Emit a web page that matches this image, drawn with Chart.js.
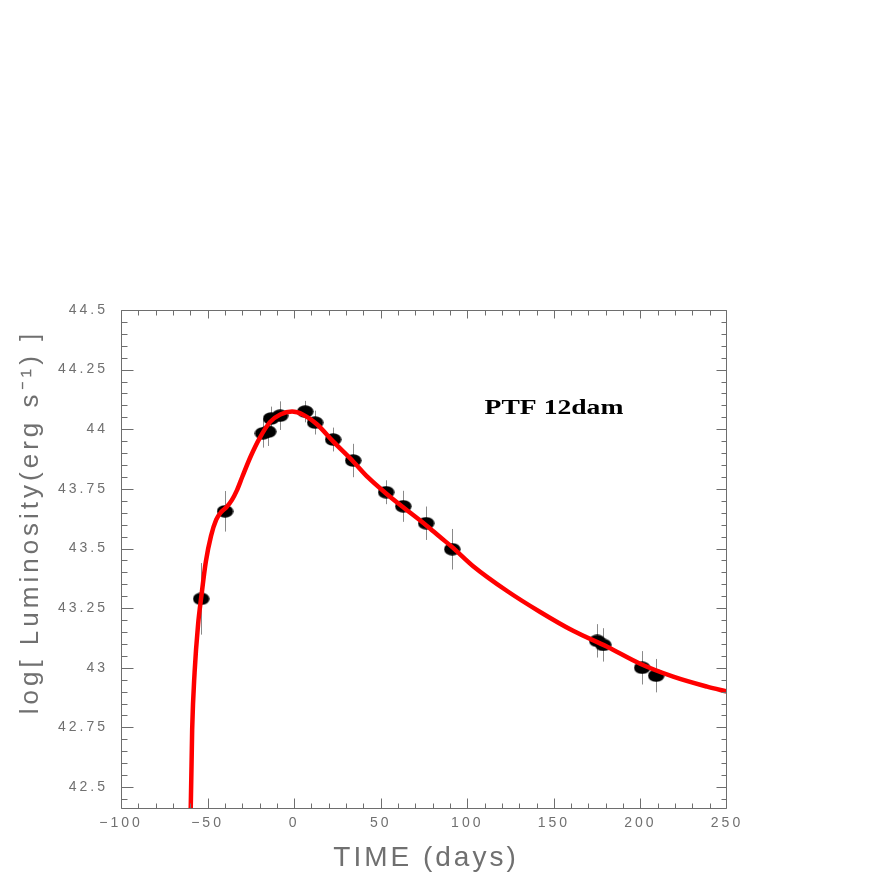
<!DOCTYPE html>
<html>
<head>
<meta charset="utf-8">
<script src="https://cdn.jsdelivr.net/npm/chart.js@4.4.1/dist/chart.umd.min.js"></script>
<style>
  html, body { margin: 0; padding: 0; background: #ffffff; }
  #c { display: block; }
</style>
</head>
<body>
<canvas id="c" width="872" height="872"></canvas>
<script>
// ---- data ----
const obsDays = [-53.7, -39.9, -18.0, -15.0, -13.3, -8.1, 6.4, 12.1, 22.5, 34.1, 53.1, 63.0, 76.2, 91.3, 175.0, 178.5, 201.0, 209.1];
const obsLogL = [43.289, 43.656, 43.983, 43.990, 44.045, 44.057, 44.074, 44.028, 43.957, 43.869, 43.736, 43.677, 43.606, 43.497, 43.113, 43.096, 43.000, 42.967];
const obsErr  = [0.15, 0.085, 0.06, 0.06, 0.05, 0.06, 0.045, 0.05, 0.05, 0.07, 0.05, 0.065, 0.07, 0.085, 0.07, 0.07, 0.07, 0.07];

const modelDays = [-60.4, -59.7, -58.9, -57.5, -55.5, -53.5, -51.0, -48.0, -45.0, -42.0, -39.0, -36.0, -33.0, -30.0, -25.0, -20.0, -14.0, -8.0, -1.2, 5.2, 13.3, 22.5, 34.1, 42.7, 53.1, 63.0, 76.2, 84.3, 91.3, 103.4, 123.0, 142.1, 161.1, 180.8, 199.8, 218.9, 238.5, 250.1];
const modelLogL = [42.36, 42.42, 42.74, 42.98, 43.18, 43.305, 43.445, 43.553, 43.621, 43.654, 43.674, 43.703, 43.745, 43.800, 43.888, 43.962, 44.030, 44.062, 44.074, 44.061, 44.020, 43.949, 43.865, 43.798, 43.731, 43.673, 43.598, 43.548, 43.506, 43.426, 43.322, 43.234, 43.155, 43.088, 43.017, 42.963, 42.921, 42.900];

const xTickValues = [-100, -50, 0, 50, 100, 150, 200, 250];
const yTickValues = [42.5, 42.75, 43, 43.25, 43.5, 43.75, 44, 44.25, 44.5];
const xRange = [-100, 250];
const yRange = [42.408, 44.5];
const labelText = 'PTF 12dam';
const xTitle = 'TIME (days)';
const yTitle = 'log[ Luminosity(erg s\u207B\u00B9) ]';

// ---- styling ----
const AXIS_COLOR = '#6e6e6e';
const TEXT_COLOR = '#707070';

// ellipse marker
const marker = document.createElement('canvas');
marker.width = 17; marker.height = 13;
(function () {
  const m = marker.getContext('2d');
  m.fillStyle = '#000';
  m.beginPath();
  m.ellipse(8.5, 6.5, 8.2, 6.2, 0, 0, Math.PI * 2);
  m.fill();
})();

const framePlugin = {
  id: 'frame',
  beforeDraw(chart) {
    chart.ctx.letterSpacing = '3px';
  },
  beforeDatasetsDraw(chart) {
    const { ctx, chartArea: a, scales: { x, y } } = chart;
    ctx.save();
    ctx.beginPath();
    ctx.rect(a.left, a.top, a.right - a.left, a.bottom - a.top);
    ctx.clip();
    ctx.strokeStyle = '#8a8a8a';
    ctx.lineWidth = 1;
    for (let i = 0; i < obsDays.length; i++) {
      const px = Math.round(x.getPixelForValue(obsDays[i])) + 0.5;
      ctx.beginPath();
      ctx.moveTo(px, y.getPixelForValue(obsLogL[i] - obsErr[i]));
      ctx.lineTo(px, y.getPixelForValue(obsLogL[i] + obsErr[i]));
      ctx.stroke();
    }
    ctx.restore();
  },
  afterDraw(chart) {
    const { ctx, chartArea: a, scales: { x, y } } = chart;
    ctx.save();
    ctx.letterSpacing = '0px';
    ctx.strokeStyle = AXIS_COLOR;
    ctx.lineWidth = 1;
    const L = Math.round(a.left) + 0.5, R = Math.round(a.right) - 0.5;
    const T = Math.round(a.top) + 0.5, B = Math.round(a.bottom) - 0.5;
    ctx.beginPath();
    ctx.rect(L, T, R - L, B - T);
    ctx.stroke();
    // x ticks every 10, major every 50
    ctx.beginPath();
    for (let v = xRange[0]; v <= xRange[1]; v += 10) {
      let px = Math.round(x.getPixelForValue(v)) + 0.5;
      px = Math.min(Math.max(px, L), R);
      const major = v % 50 === 0;
      const lb = major ? 10 : 5, lt = major ? 8 : 5;
      ctx.moveTo(px, B); ctx.lineTo(px, B - lb);
      ctx.moveTo(px, T); ctx.lineTo(px, T + lt);
    }
    // y ticks every 0.05, major every 0.25
    for (let k = Math.ceil(yRange[0] * 20); k <= Math.round(yRange[1] * 20); k++) {
      const v = k / 20;
      let py = Math.round(y.getPixelForValue(v)) + 0.5;
      py = Math.min(Math.max(py, T), B);
      const major = k % 5 === 0;
      const ll = major ? 12 : 6, lr = major ? 10 : 5;
      ctx.moveTo(L, py); ctx.lineTo(L + ll, py);
      ctx.moveTo(R, py); ctx.lineTo(R - lr, py);
    }
    ctx.stroke();

    // axis titles
    ctx.fillStyle = TEXT_COLOR;
    ctx.font = '28px "Liberation Sans", Arial, sans-serif';
    ctx.textAlign = 'center';
    ctx.textBaseline = 'alphabetic';
    ctx.letterSpacing = '3px';
    ctx.fillText(xTitle, (a.left + a.right) / 2 + 2, 866);

    ctx.save();
    ctx.translate(38, 522);
    ctx.rotate(-Math.PI / 2);
    ctx.font = '26px "Liberation Sans", Arial, sans-serif';
    ctx.letterSpacing = '4px';
    ctx.fillText(yTitle, 0, 0);
    ctx.restore();

    // annotation
    ctx.save();
    ctx.letterSpacing = '0px';
    ctx.fillStyle = '#000';
    ctx.font = 'bold 20px "Liberation Serif", "Times New Roman", serif';
    ctx.textAlign = 'left';
    ctx.translate(x.getPixelForValue(110), y.getPixelForValue(44.065));
    ctx.scale(1.38, 1);
    ctx.fillText(labelText, 0, 0);
    ctx.restore();

    ctx.restore();
    ctx.letterSpacing = '0px';
  }
};

new Chart(document.getElementById('c'), {
  type: 'scatter',
  data: {
    datasets: [
      {
        label: 'model',
        type: 'line',
        data: modelDays.map((d, i) => ({ x: d, y: modelLogL[i] })),
        borderColor: '#ff0000',
        borderWidth: 4.5,
        pointRadius: 0,
        fill: false,
        cubicInterpolationMode: 'monotone',
        clip: 0,
        order: 0
      },
      {
        label: 'PTF 12dam',
        data: obsDays.map((d, i) => ({ x: d, y: obsLogL[i] })),
        pointStyle: marker,
        pointRadius: 8,
        backgroundColor: '#000',
        borderColor: '#000',
        clip: 6,
        order: 1
      }
    ]
  },
  options: {
    responsive: false,
    animation: false,
    devicePixelRatio: 1,
    layout: { padding: { left: 0, top: 310, right: 145, bottom: 0 } },
    plugins: { legend: { display: false }, tooltip: { enabled: false } },
    scales: {
      x: {
        type: 'linear',
        min: xRange[0], max: xRange[1],
        grid: { display: false, drawTicks: false },
        border: { display: false },
        afterBuildTicks: (s) => { s.ticks = xTickValues.map(v => ({ value: v })); },
        afterFit: (s) => { s.height = 63; },
        ticks: {
          padding: 6,
          color: TEXT_COLOR,
          font: { family: '"Liberation Sans", Arial, sans-serif', size: 14 },
          maxRotation: 0,
          autoSkip: false,
          callback: (v) => (v < 0 ? '\u2212' + Math.abs(v) : String(v))
        }
      },
      y: {
        type: 'linear',
        min: yRange[0], max: yRange[1],
        grid: { display: false, drawTicks: false },
        border: { display: false },
        afterBuildTicks: (s) => { s.ticks = yTickValues.map(v => ({ value: v })); },
        afterFit: (s) => { s.width = 121; },
        ticks: {
          padding: 13,
          color: TEXT_COLOR,
          font: { family: '"Liberation Sans", Arial, sans-serif', size: 14 },
          autoSkip: false,
          callback: (v) => String(v)
        }
      }
    }
  },
  plugins: [framePlugin]
});
</script>
</body>
</html>
